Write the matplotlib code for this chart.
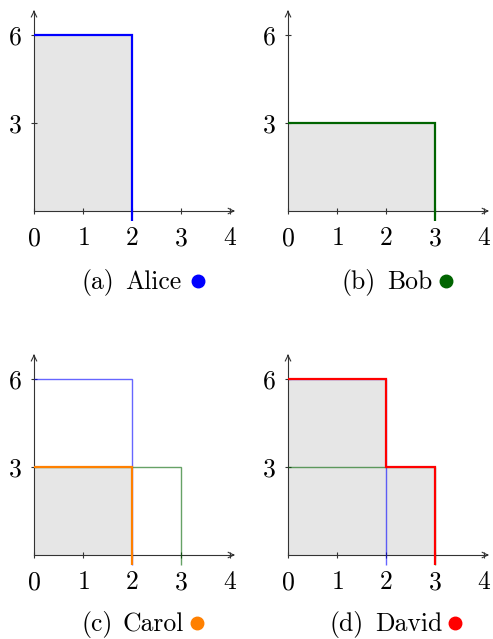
import matplotlib
matplotlib.use("Agg")
from matplotlib import pyplot as plt
from matplotlib.lines import Line2D

plt.rcParams["font.family"] = "cmr10"
plt.rcParams["mathtext.fontset"] = "cm"
plt.rcParams["axes.formatter.use_mathtext"] = True

# outlines of each player's region (x, y steps)
alice_x = [0, 2, 2]
alice_y = [6, 6, 0]
bob_x = [0, 3, 3]
bob_y = [3, 3, 0]
carol_x = [0, 2, 2]
carol_y = [3, 3, 0]
david_x = [0, 2, 2, 3, 3]
david_y = [6, 6, 3, 3, 0]

x_ticks = [0, 1, 2, 3, 4]
y_ticks = [3, 6]

tags = ["(a)", "(b)", "(c)", "(d)"]
names = ["Alice", "Bob", "Carol", "David"]
colors = ["#0000ff", "#006400", "#ff8000", "#ff0000"]

W, H = 493, 639
UX, UY = 49.0, 29.3
XMAX, YMIN, YMAX = 4.12, -0.5, 6.85
DROP = -0.35
FS = 18.5


def make_axes(fig, x0, y0):
    # x0, y0 = pixel position of the origin
    left = x0 / W
    bottom = (H - (y0 - YMIN * UY)) / H
    ax = fig.add_axes([left, bottom, XMAX * UX / W, (YMAX - YMIN) * UY / H])
    ax.set_xlim(0, XMAX)
    ax.set_ylim(YMIN, YMAX)
    for s in ["top", "right"]:
        ax.spines[s].set_visible(False)
    ax.spines["bottom"].set_position(("data", 0))
    ax.spines["left"].set_position(("data", 0))
    ax.spines["bottom"].set_bounds(0, 4.05)
    ax.spines["left"].set_bounds(0, 6.8)
    for s in ["bottom", "left"]:
        ax.spines[s].set_color("#333333")
        ax.spines[s].set_linewidth(0.8)
    ax.annotate("", xy=(4.1, 0), xytext=(4.0, 0),
                arrowprops=dict(arrowstyle="->", lw=0.8, color="#333333"))
    ax.annotate("", xy=(0, 6.85), xytext=(0, 6.7),
                arrowprops=dict(arrowstyle="->", lw=0.8, color="#333333"))
    ax.set_xticks(x_ticks)
    ax.set_yticks(y_ticks)
    ax.tick_params(axis="both", direction="inout", length=4, width=0.8,
                   color="#333333", labelsize=FS)
    ax.tick_params(axis="x", pad=9)
    ax.tick_params(axis="y", pad=7)
    ax.patch.set_alpha(0)
    return ax


def outline(ax, xs, ys, color, lw, alpha=1.0):
    ax.plot(xs + [xs[-1]], ys + [DROP], color=color, lw=lw, alpha=alpha,
            solid_joinstyle="miter", solid_capstyle="butt", zorder=3)


def region(ax, xs, ys):
    ax.fill([0] + xs, [0] + ys, color="#e6e6e6", lw=0, zorder=1)


fig = plt.figure(figsize=(W / 100, H / 100), dpi=100)

origins = [(34, 211), (288, 211), (34, 555), (288, 555)]
axs = [make_axes(fig, *o) for o in origins]

# (a) Alice
region(axs[0], alice_x, alice_y)
outline(axs[0], alice_x, alice_y, colors[0], 1.6)

# (b) Bob
region(axs[1], bob_x, bob_y)
outline(axs[1], bob_x, bob_y, colors[1], 1.6)

# (c) Carol
region(axs[2], carol_x, carol_y)
outline(axs[2], alice_x, alice_y, colors[0], 1.0, 0.6)
outline(axs[2], bob_x, bob_y, colors[1], 1.0, 0.6)
outline(axs[2], carol_x, carol_y, colors[2], 1.6)

# (d) David
region(axs[3], david_x, david_y)
outline(axs[3], alice_x, alice_y, colors[0], 1.0, 0.6)
outline(axs[3], bob_x, bob_y, colors[1], 1.0, 0.6)
outline(axs[3], david_x, david_y, colors[3], 1.6)

# captions: tag x, name x, dot x, baseline y (pixels)
caps = [(81, 125, 198, 289), (341, 387, 446, 289),
        (81, 123, 197, 631), (329, 375, 455, 631)]
for tag, name, col, (tx, nx, dx, by) in zip(tags, names, colors, caps):
    fig.text(tx / W, 1 - by / H, tag, ha="left", va="baseline", fontsize=FS)
    fig.text(nx / W, 1 - by / H, name, ha="left", va="baseline", fontsize=FS)
    fig.add_artist(Line2D([dx / W], [1 - (by - 8) / H], marker="o",
                          markersize=9, color=col, transform=fig.transFigure))

fig.savefig("out.png", dpi=100)
